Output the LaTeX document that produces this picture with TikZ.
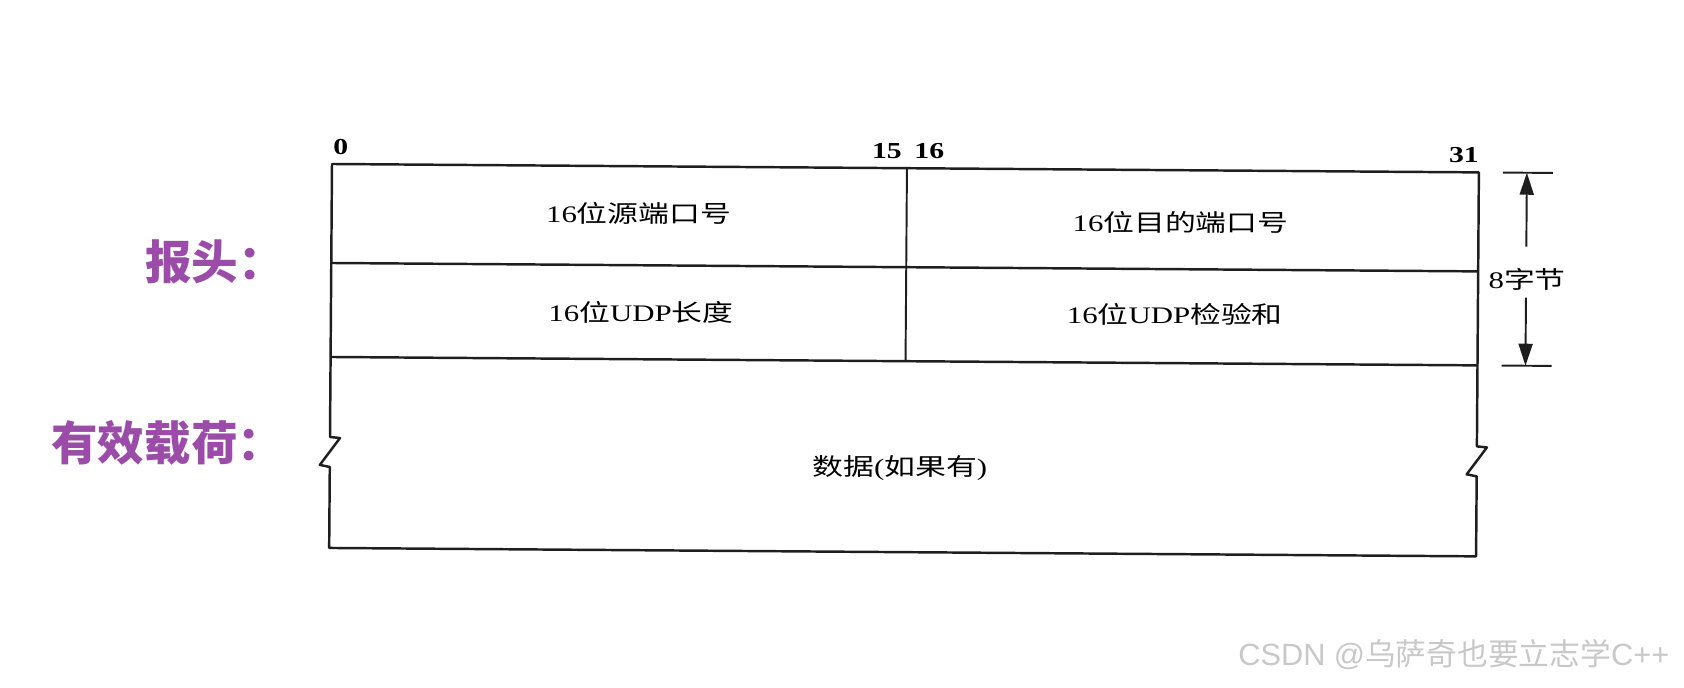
\documentclass[tikz,border=0pt]{standalone}
\usepackage{fontspec}
\usetikzlibrary{arrows.meta}

\setmainfont{Liberation Serif}[FakeStretch=1.3]
\newfontfamily\cjk{Noto Sans CJK SC}[FakeStretch=1.3]
\newfontfamily\tagcjk{Noto Sans CJK SC}
\newfontfamily\marksans{Liberation Sans}

\definecolor{tagpurple}{RGB}{155,75,168}
\definecolor{marktext}{RGB}{200,200,200}
\definecolor{inkline}{RGB}{30,30,30}

\begin{document}
\begin{tikzpicture}[x=0.02cm, y=-0.02cm]

    \tikzset{cellstyle/.style={inner sep=0pt, font=\fontsize{13.5}{15}\selectfont},
             bitstyle/.style={inner sep=0pt, font=\fontsize{13}{15}\selectfont\bfseries},
             tagstyle/.style={inner sep=0pt, anchor=west, text=tagpurple,
                              font=\fontsize{26.5}{30}\selectfont\tagcjk\bfseries},
             boxline/.style={draw=inkline, line width=1.4pt, line join=round},
             thinline/.style={draw=inkline, line width=1.1pt},
             bytearrow/.style={draw=inkline, line width=1.1pt, -{Triangle[length=0.44cm,width=0.28cm]}}}

    \useasboundingbox (0,0) rectangle (1684,688);

    % the scan is slightly tilted
    \begin{scope}[rotate around={-0.42:(332,164)}]

        \coordinate (tl) at (332,164);
        \coordinate (tr) at (1479,164);
        \coordinate (bl) at (332,548);
        \coordinate (br) at (1479,548);

        \draw[boxline] (tl) -- (tr) -- (1479,438) -- (1489,439) -- (1469,466) -- (1479,468)
            -- (br) -- (bl) -- (332,467) -- (322,465) -- (342,438) -- (332,437) -- cycle;

        \begin{scope}[every path/.style={boxline}]
            \draw (332,263) -- (1479,263);
            \draw (332,357) -- (1479,357);
        \end{scope}
        \draw[thinline] (907,164) -- (907,357);

        \node[bitstyle, anchor=west] (b0) at (333,147) {0};
        \node[bitstyle, anchor=east] (b15) at (902,147) {15};
        \node[bitstyle, anchor=west] (b16) at (914,147) {16};
        \node[bitstyle, anchor=east] (b31) at (1479,147) {31};

        \node[cellstyle] (srcport) at (639,211) {16{\cjk 位源端口号}};
        \node[cellstyle] (dstport) at (1181,216) {16{\cjk 位目的端口号}};
        \node[cellstyle] (udplen) at (642,310) {16{\cjk 位}UDP{\cjk 长度}};
        \node[cellstyle] (udpsum) at (1176,308) {16{\cjk 位}UDP{\cjk 检验和}};
        \node[cellstyle] (payload) at (902,464) {{\cjk 数据}({\cjk 如果有})};

        % 8 bytes
        \node[cellstyle] (bytes) at (1528,271) {8{\cjk 字节}};
        \coordinate (ticktop) at (1527,164);
        \coordinate (tickbot) at (1527,357);
        \coordinate (arrowup) at (1527,238);
        \coordinate (arrowdown) at (1527,289);
        \draw[thinline] (1503,164) -- (1553,164);
        \draw[thinline] (1503,357) -- (1553,357);
        \draw[bytearrow] (arrowup) -- (ticktop);
        \draw[bytearrow] (arrowdown) -- (tickbot);

    \end{scope}

    \node[tagstyle] (hdrtag) at (145,262) {报头：};
    \node[tagstyle] (loadtag) at (51,443) {有效载荷：};

    \node[anchor=west, inner sep=0pt, text=marktext, font=\fontsize{17.5}{20}\selectfont]
        (mark) at (1238,655) {{\marksans CSDN @}{\tagcjk 乌萨奇也要立志学}{\marksans C++}};

\end{tikzpicture}
\end{document}
